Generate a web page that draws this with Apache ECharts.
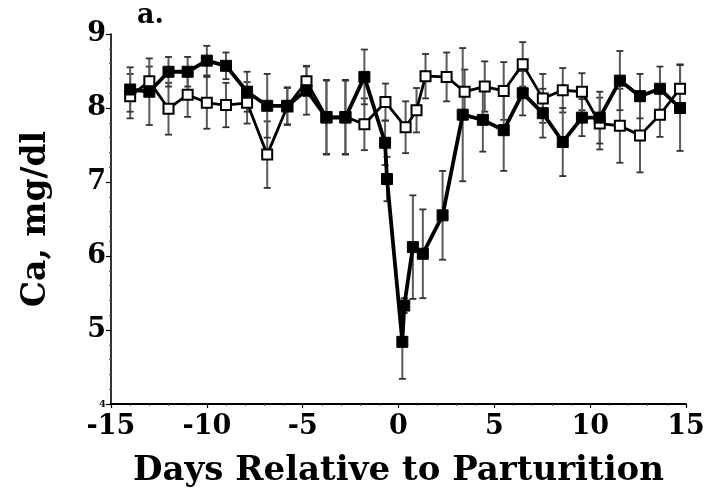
<!DOCTYPE html>
<html>
<head>
<meta charset="utf-8">
<script src="https://cdn.jsdelivr.net/npm/echarts@6/dist/echarts.min.js"></script>
<style>
html,body{margin:0;padding:0;background:#fff;}
#chart{width:708px;height:493px;}
</style>
</head>
<body>
<div id="chart"></div>
<script>
// ---- data ----
const openDays = [-14,-13,-12,-11,-10,-9,-7.9,-6.85,-5.8,-4.8,-3.76,-2.77,-1.78,-0.68,0.37,0.94,1.41,2.51,3.45,4.5,5.49,6.48,7.53,8.57,9.57,10.5,11.55,12.6,13.64,14.69];
const openCa   = [8.16,8.36,7.99,8.18,8.07,8.04,8.07,7.37,8.02,8.36,7.88,7.88,7.78,8.08,7.74,7.97,8.43,8.42,8.22,8.29,8.23,8.59,8.13,8.24,8.22,7.79,7.76,7.63,7.91,8.26];
const openErr  = [0.3,0.2,0.35,0.3,0.35,0.3,0.28,0.45,0.25,0.2,0.5,0.5,0.35,0.25,0.35,0.3,0.3,0.33,0.3,0.34,0.39,0.3,0.33,0.3,0.25,0.35,0.5,0.5,0.3,0.33];

const fillDays = [-14,-13,-12,-11,-10,-9,-7.9,-6.85,-5.8,-4.8,-3.76,-2.77,-1.78,-0.7,-0.6,0.2,0.3,0.75,1.27,2.3,3.35,4.4,5.49,6.48,7.53,8.57,9.57,10.5,11.55,12.6,13.64,14.69];
const fillCa   = [8.25,8.22,8.49,8.49,8.64,8.57,8.22,8.03,8.03,8.24,7.87,7.87,8.42,7.53,7.04,4.84,5.33,6.12,6.03,6.55,7.91,7.84,7.7,8.2,7.93,7.54,7.87,7.87,8.37,8.16,8.26,8.0];
const fillErr  = [0.3,0.45,0.2,0.2,0.2,0.18,0.27,0.43,0.25,0.33,0.5,0.5,0.37,0.3,0.3,0.5,0.1,0.7,0.6,0.6,0.9,0.43,0.55,0.3,0.33,0.46,0.25,0.35,0.4,0.3,0.3,0.58];

const xTicks = [-15,-10,-5,0,5,10,15];
const yTicks = [4,5,6,7,8,9];

const xTitle = 'Days Relative to Parturition';
const yTitle = 'Ca, mg/dl';
const panelLabel = 'a.';

// ---- build ----
const FONT = '"DejaVu Serif", "Liberation Serif", serif';
const pts = (xs, ys) => xs.map((d, i) => [d, ys[i]]);
const errData = (xs, ys, es) => xs.map((d, i) => [d, ys[i] - es[i], ys[i] + es[i]]);

function errorBar(params, api) {
  const x = api.value(0);
  const lo = api.coord([x, api.value(1)]);
  const hi = api.coord([x, api.value(2)]);
  const cap = 3.5;
  const st = {stroke: '#333', lineWidth: 1.8};
  return {
    type: 'group',
    children: [
      {type: 'line', shape: {x1: lo[0], y1: lo[1], x2: hi[0], y2: hi[1]}, style: {stroke: '#5a5a5a', lineWidth: 2}},
      {type: 'line', shape: {x1: lo[0]-cap, y1: lo[1], x2: lo[0]+cap, y2: lo[1]}, style: st},
      {type: 'line', shape: {x1: hi[0]-cap, y1: hi[1], x2: hi[0]+cap, y2: hi[1]}, style: st}
    ]
  };
}

const chart = echarts.init(document.getElementById('chart'), null, {renderer: 'canvas'});
chart.setOption({
  animation: false,
  backgroundColor: '#fff',
  grid: {left: 111, right: 22, top: 34, bottom: 81},
  xAxis: {
    type: 'value', min: -15, max: 15, interval: 5,
    name: xTitle, nameLocation: 'middle', nameGap: 50,
    nameTextStyle: {fontFamily: FONT, fontWeight: 'bold', fontSize: 34, color: '#000'},
    axisLine: {show: true, onZero: false, lineStyle: {color: '#000', width: 1.8}},
    axisTick: {show: true, length: 4, lineStyle: {color: '#000', width: 1.2}},
    minorTick: {show: true, splitNumber: 5, length: 2, lineStyle: {color: '#555'}},
    axisLabel: {fontFamily: FONT, fontWeight: 'bold', fontSize: 27, color: '#000', margin: 9,
      formatter: v => xTicks.includes(v) ? String(v) : ''},
    splitLine: {show: false}
  },
  yAxis: {
    type: 'value', min: 4, max: 9, interval: 1,
    name: yTitle, nameLocation: 'middle', nameGap: 58, nameRotate: 90,
    nameTextStyle: {fontFamily: FONT, fontWeight: 'bold', fontSize: 33, color: '#000'},
    axisLine: {show: true, onZero: false, lineStyle: {color: '#000', width: 1.6}},
    axisTick: {show: true, length: 5, lineStyle: {color: '#000', width: 1.2}},
    minorTick: {show: true, splitNumber: 5, length: 2, lineStyle: {color: '#555'}},
    axisLabel: {fontFamily: FONT, fontWeight: 'bold', fontSize: 27, color: '#000', margin: 5,
      formatter: v => v === 4 ? '{s|4}' : (yTicks.includes(v) ? String(v) : ''),
      rich: {s: {fontFamily: FONT, fontWeight: 'bold', fontSize: 10, color: '#000'}}},
    splitLine: {show: false}
  },
  graphic: [{type: 'text', left: 137, top: 2,
    style: {text: panelLabel, font: 'bold 27px ' + FONT, fill: '#000'}}],
  series: [
    {type: 'custom', name: 'errOpen', renderItem: errorBar, data: errData(openDays, openCa, openErr), z: 1},
    {type: 'custom', name: 'errFill', renderItem: errorBar, data: errData(fillDays, fillCa, fillErr), z: 1},
    {type: 'line', name: 'Open', data: pts(openDays, openCa), z: 3,
      symbol: 'rect', symbolSize: 10, showSymbol: true,
      lineStyle: {color: '#000', width: 2.8},
      itemStyle: {color: '#fff', borderColor: '#000', borderWidth: 2}},
    {type: 'line', name: 'Filled', data: pts(fillDays, fillCa), z: 4,
      symbol: 'rect', symbolSize: 11, showSymbol: true,
      lineStyle: {color: '#000', width: 3.8},
      itemStyle: {color: '#000', borderColor: '#000', borderWidth: 1}}
  ]
});
</script>
</body>
</html>
